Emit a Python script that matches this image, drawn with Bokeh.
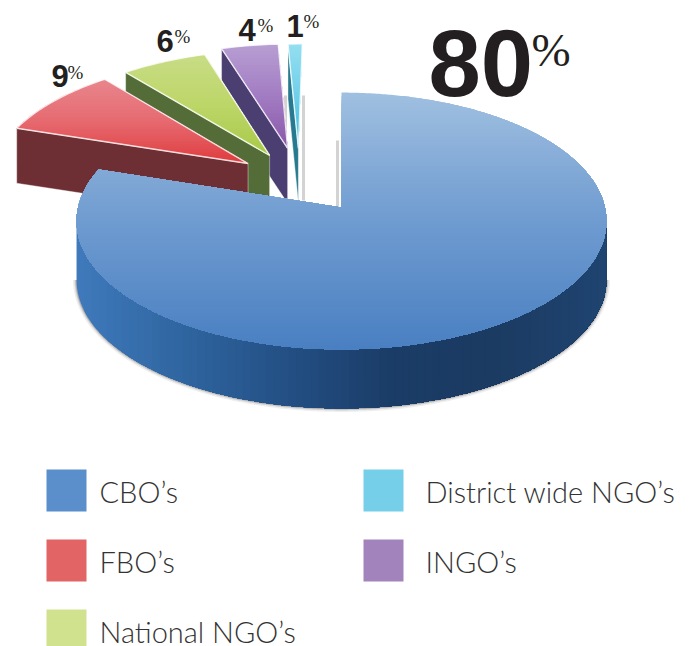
import math
from bokeh.plotting import figure
from bokeh.models import Range1d
from bokeh.core.properties import value
from bokeh.embed import file_html
from bokeh.resources import INLINE

categories = ["CBO's", "FBO's", "National NGO's", "INGO's", "District wide NGO's"]
shares = [80, 9, 6, 4, 1]
share_labels = ["80", "9", "6", "4", "1"]
legend_labels = ["CBO\u2019s", "FBO\u2019s", "National NGO\u2019s", "District wide NGO\u2019s", "INGO\u2019s"]
legend_colors = ["#5b8fcc", "#e26464", "#d1e28f", "#76cfe9", "#a283bb"]

# style / layout
AX, AY, RX, RY, K, DEPTH = 341, 207, 263.5, 127, 0.105, 59
explode = [(0, 0), (-0.368, 0.359), (-0.285, 0.428), (-0.215, 0.49), (-0.172, 0.49)]
top_stops = [
    ["#9fbfe0", "#6f9bd0", "#4a80c2"],
    ["#e8858c", "#e66a70", "#df3d3f"],
    ["#c8dc85", "#bdd668", "#a8ca4a"],
    ["#b79dd2", "#a27cc2", "#8a58aa"],
    ["#93def0", "#6fd0ea", "#3bbcdc"],
]
wall_colors = [None, "#6d2f33", "#546d38", "#4b3e70", "#27798f"]
cbo_wall_stops = ["#3f79bb", "#2f659f", "#234f84", "#1a3c66", "#1b3b62", "#1f4470"]
BASE = 0.37  # baseline correction, in em


def project(u, v, du=0.0, dv=0.0, dz=0.0):
    w = 1 + K * (v + dv)
    return AX + RX * (u + du) / w, AY - RY * (v + dv) / w + dz


def arc(t0, t1, du=0.0, dv=0.0, dz=0.0, step=1.0):
    n = max(2, int(abs(t1 - t0) / step) + 1)
    ts = [t0 + (t1 - t0) * i / (n - 1) for i in range(n)]
    return [project(math.sin(math.radians(t)), math.cos(math.radians(t)), du, dv, dz) for t in ts]


def clip(poly, axis, limit):
    out = []
    for i, a in enumerate(poly):
        b = poly[(i + 1) % len(poly)]
        ina, inb = a[axis] >= limit, b[axis] >= limit
        if ina:
            out.append(a)
        if ina != inb:
            f = (limit - a[axis]) / (b[axis] - a[axis])
            out.append((a[0] + (b[0] - a[0]) * f, a[1] + (b[1] - a[1]) * f))
    return out


def hex2rgb(h):
    return tuple(int(h[i:i + 2], 16) for i in (1, 3, 5))


def ramp(stops, f):
    f = min(max(f, 0), 1) * (len(stops) - 1)
    i = min(int(f), len(stops) - 2)
    a, b = hex2rgb(stops[i]), hex2rgb(stops[i + 1])
    g = f - i
    return "#%02x%02x%02x" % tuple(round(a[j] + (b[j] - a[j]) * g) for j in range(3))


p = figure(width=689, height=646, x_range=Range1d(0, 689), y_range=Range1d(646, 0),
           output_backend="svg", toolbar_location=None, min_border=0)
p.axis.visible = False
p.grid.visible = False
p.outline_line_color = None


def gradient(poly, axis, stops, n=50):
    vals = [pt[axis] for pt in poly]
    lo, hi = min(vals), max(vals)
    xs, ys, cols = [], [], []
    for i in range(n):
        lim = lo + (hi - lo) * i / n
        c = clip(poly, axis, lim)
        if len(c) >= 3:
            xs.append([q[0] for q in c])
            ys.append([q[1] for q in c])
            cols.append(ramp(stops, i / (n - 1)))
    p.patches(xs, ys, fill_color=cols, line_color=None)


# slice angles from the data
total = sum(shares)
edges = [0.0]
for s in shares:
    edges.append(edges[-1] + 360.0 * s / total)

# soft cast shadows in the gap
apex_main = project(0, 0)
p.segment(x0=[285, 303, apex_main[0] - 4], y0=[95, 95, 140], x1=[285, 303, apex_main[0] - 4], y1=[200, 200, apex_main[1]],
          line_color="#b5b5b5", line_width=3, line_alpha=0.6)

# exploded slices, back to front
for idx in [4, 3, 2, 1]:
    du, dv = explode[idx]
    t0, t1 = edges[idx], edges[idx + 1]
    apex = project(0, 0, du, dv)
    outer = arc(t0, t1, du, dv)
    wall = [outer[0], apex, (apex[0], apex[1] + DEPTH - 4), (outer[0][0], outer[0][1] + DEPTH - 4)]
    p.patch([q[0] for q in wall], [q[1] for q in wall], fill_color=wall_colors[idx],
            line_color="#ffffff", line_alpha=0.5, line_width=0.8)
    poly = [apex] + outer
    gradient(poly, 1, top_stops[idx], 30)
    p.patch([q[0] for q in poly], [q[1] for q in poly], fill_color=None,
            line_color="#ffffff", line_width=1.4, line_alpha=0.8)

# main slice
main_arc = arc(edges[0], edges[1], step=0.5)
xv = [q[0] for q in main_arc]
i_r, i_l = xv.index(max(xv)), xv.index(min(xv))
front = main_arc[i_r:i_l + 1]
low = [(q[0], q[1] + DEPTH) for q in front]
for w, a in [(7, 0.10), (4, 0.18), (2, 0.30)]:
    p.line([q[0] for q in low], [q[1] for q in low], line_color="#555555", line_width=w, line_alpha=a)
wall = front + low[::-1]
gradient(wall, 0, cbo_wall_stops, 70)
poly = [project(0, 0)] + main_arc
gradient(poly, 1, top_stops[0], 70)

# value labels
digit_x = [428, 51, 156, 238, 286]
digit_y = [97, 87, 52, 41, 37]
digit_size = [94, 31, 31, 31, 31]
pct_x = [531, 67, 174, 257, 303]
pct_y = [67, 79, 43, 32, 28]
pct_size = [47, 19, 19, 19, 19]
for t, x, y, s in zip(share_labels, digit_x, digit_y, digit_size):
    p.text([x], [y - BASE * s], text=[t], text_font=value("Liberation Sans"), text_font_style="bold",
           text_font_size=f"{s}px", text_color="#231f20", text_baseline="alphabetic", text_align="left")
for x, y, s in zip(pct_x, pct_y, pct_size):
    p.text([x], [y - BASE * s], text=["%"], text_font=value("Liberation Serif"),
           text_font_size=f"{s}px", text_color="#231f20", text_baseline="alphabetic", text_align="left")

# legend
LEG = 29
sw_x = [46, 46, 46, 363, 363]
sw_y = [469, 539, 609, 469, 539]
tx_x = [99, 99, 99, 425, 425]
p.quad(left=sw_x, right=[x + 40 for x in sw_x], top=sw_y, bottom=[y + 42 for y in sw_y],
       fill_color=legend_colors, line_color=None)
p.text(tx_x, [y + 22 for y in sw_y], text=legend_labels, text_font=value("Lato Light"),
       text_font_size=f"{LEG}px", text_color="#333333", text_baseline="middle", text_align="left")

open("out.html", "w").write(file_html(p, INLINE))
